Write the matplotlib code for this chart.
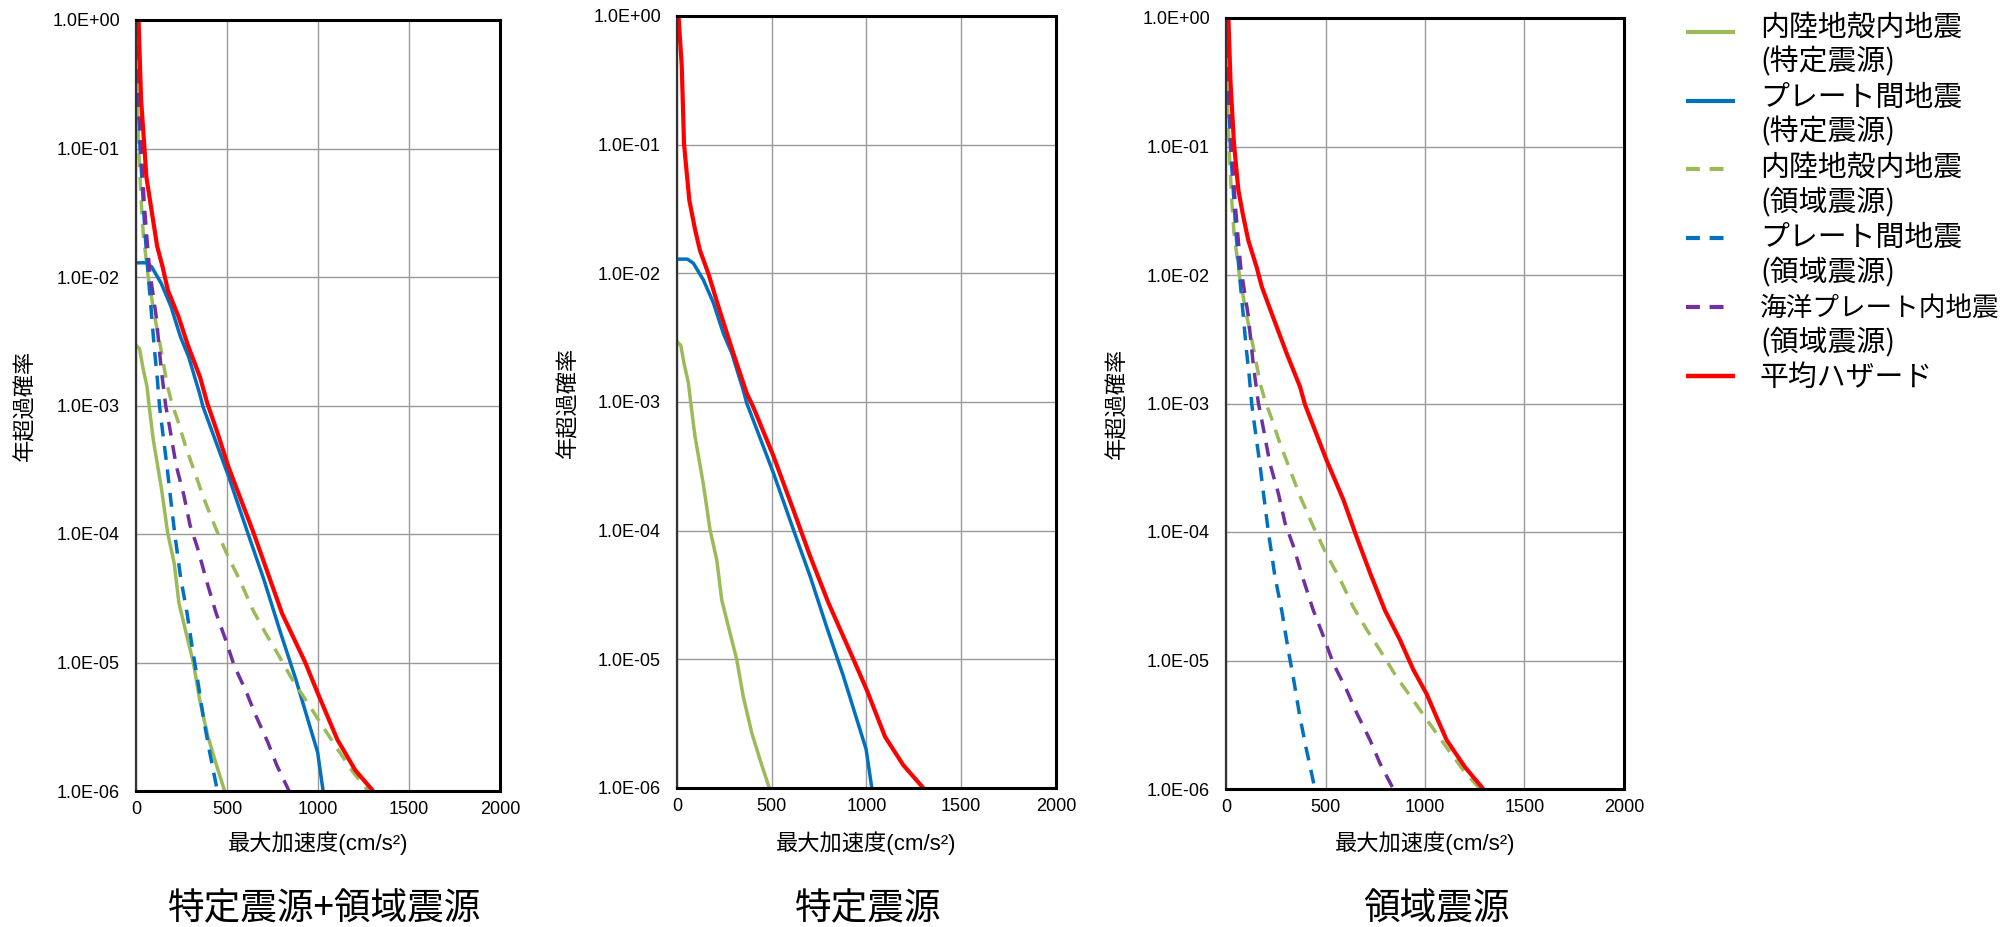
import matplotlib
matplotlib.use("Agg")
import matplotlib.pyplot as plt
from matplotlib.lines import Line2D
from matplotlib.ticker import FixedLocator, FixedFormatter, NullLocator

# ------------------------------------------------------------------ data
# x: peak ground acceleration (cm/s^2), y: annual exceedance probability
crust_spec_x = [0, 20, 37, 60, 72, 95, 139, 174, 210, 236, 271, 315, 350, 394, 438, 487]
crust_spec_y = [2.95e-3, 2.75e-3, 2.0e-3, 1.41e-3, 1.0e-3, 5.4e-4, 2.3e-4, 1.02e-4, 5.9e-5,
                2.9e-5, 1.8e-5, 1.0e-5, 5.1e-6, 2.7e-6, 1.66e-6, 1.0e-6]

plate_spec_x = [0, 55, 86, 139, 192, 245, 289, 350, 368, 509, 614, 703, 790, 878, 998, 1028]
plate_spec_y = [1.29e-2, 1.29e-2, 1.2e-2, 8.9e-3, 5.9e-3, 3.4e-3, 2.4e-3, 1.23e-3, 9.8e-4,
                2.8e-4, 1.02e-4, 4.4e-5, 1.78e-5, 7.4e-6, 2.0e-6, 1.0e-6]

crust_area_x = [0, 5, 15, 29, 40, 67, 104, 137, 171, 196, 230, 271, 372, 439, 503, 573, 640,
                707, 774, 858, 941, 1025, 1109, 1193, 1276]
crust_area_y = [0.76, 0.32, 0.10, 0.038, 0.0214, 0.010, 4.8e-3, 2.75e-3, 1.45e-3, 1.05e-3,
                7.6e-4, 4.9e-4, 1.9e-4, 1.1e-4, 6.8e-5, 4.3e-5, 2.6e-5, 1.74e-5, 1.2e-5,
                7.4e-6, 4.9e-6, 3.2e-6, 2.1e-6, 1.4e-6, 1.0e-6]

plate_area_x = [0, 10, 22, 35, 47, 62, 80, 101, 117, 129, 146, 171, 190, 213, 246, 280, 313,
                338, 372, 405, 447]
plate_area_y = [0.63, 0.32, 0.10, 0.050, 0.025, 0.0126, 6.3e-3, 2.75e-3, 1.62e-3, 1.0e-3,
                6.3e-4, 3.3e-4, 1.9e-4, 1.0e-4, 4.5e-5, 2.45e-5, 1.2e-5, 7.4e-6, 3.6e-6,
                2.0e-6, 1.0e-6]

slab_area_x = [0, 12, 29, 45, 60, 74, 95, 112, 138, 163, 180, 221, 263, 297, 338, 388, 439,
               489, 539, 606, 657, 724, 774, 841]
slab_area_y = [0.63, 0.32, 0.10, 0.038, 0.020, 0.0115, 7.1e-3, 4.8e-3, 1.95e-3, 1.0e-3,
               7.4e-4, 3.4e-4, 2.0e-4, 1.17e-4, 7.8e-5, 4.3e-5, 2.45e-5, 1.55e-5, 9.5e-6,
               5.9e-6, 3.9e-6, 2.4e-6, 1.58e-6, 1.0e-6]

mean_all_x = [14, 28, 47, 57, 87, 116, 146, 175, 234, 283, 352, 391, 450, 509, 646, 803, 930,
              999, 1107, 1205, 1303]
mean_all_y = [1.0, 0.24, 0.098, 0.060, 0.032, 0.0174, 0.012, 7.9e-3, 4.9e-3, 3.0e-3, 1.66e-3,
              1.05e-3, 6.0e-4, 3.3e-4, 1.02e-4, 2.4e-5, 1.0e-5, 5.75e-6, 2.5e-6, 1.45e-6, 1.0e-6]

mean_spec_x = [8, 25, 37, 48, 65, 95, 121, 165, 224, 297, 368, 403, 509, 614, 703, 799, 931,
               1002, 1098, 1195, 1300]
mean_spec_y = [1.0, 0.41, 0.102, 0.068, 0.037, 0.022, 0.0151, 0.010, 5.2e-3, 2.4e-3, 1.17e-3,
               9.1e-4, 3.8e-4, 1.45e-4, 6.3e-5, 2.75e-5, 1.0e-5, 5.75e-6, 2.5e-6, 1.5e-6, 1.0e-6]

mean_area_x = [12, 23, 40, 62, 84, 112, 154, 180, 230, 305, 372, 397, 506, 590, 657, 724, 799,
               874, 941, 1008, 1059, 1109, 1201, 1293]
mean_area_y = [1.0, 0.31, 0.106, 0.046, 0.030, 0.0186, 0.0115, 8.1e-3, 5.0e-3, 2.45e-3,
               1.35e-3, 9.8e-4, 3.6e-4, 1.78e-4, 9.1e-5, 4.8e-5, 2.45e-5, 1.45e-5, 8.5e-6,
               5.5e-6, 3.6e-6, 2.4e-6, 1.48e-6, 1.0e-6]

legend_labels = [
    ["内陸地殻内地震", "(特定震源)"],
    ["プレート間地震", "(特定震源)"],
    ["内陸地殻内地震", "(領域震源)"],
    ["プレート間地震", "(領域震源)"],
    ["海洋プレート内地震", "(領域震源)"],
    ["平均ハザード"],
]
panel_titles = ["特定震源+領域震源", "特定震源", "領域震源"]
xtick_values = [0, 500, 1000, 1500, 2000]
xtick_labels = ["0", "500", "1000", "1500", "2000"]
ytick_values = [1e-6, 1e-5, 1e-4, 1e-3, 1e-2, 1e-1, 1e0]
ytick_labels = ["1.0E-06", "1.0E-05", "1.0E-04", "1.0E-03", "1.0E-02", "1.0E-01", "1.0E+00"]
x_label = "最大加速度(cm/s²)"
y_label = "年超過確率"

# ------------------------------------------------------------------ styles
GREEN, BLUE, PURPLE, RED = "#9bbb59", "#0070c0", "#7030a0", "#ff0000"
LW, LW_RED = 2.5, 3.0
DASH = (10 / LW, 7 / LW)
CJK = ["Noto Sans CJK JP", "DejaVu Sans"]
LAT = ["Liberation Sans", "Noto Sans CJK JP", "DejaVu Sans"]

styles = {
    "crust_spec": dict(color=GREEN, lw=LW, ls="-"),
    "plate_spec": dict(color=BLUE, lw=LW, ls="-"),
    "crust_area": dict(color=GREEN, lw=LW, ls=(0, DASH)),
    "plate_area": dict(color=BLUE, lw=LW, ls=(0, DASH)),
    "slab_area": dict(color=PURPLE, lw=LW, ls=(0, DASH)),
    "mean": dict(color=RED, lw=LW_RED, ls="-"),
}
series = {
    "crust_spec": (crust_spec_x, crust_spec_y),
    "plate_spec": (plate_spec_x, plate_spec_y),
    "crust_area": (crust_area_x, crust_area_y),
    "plate_area": (plate_area_x, plate_area_y),
    "slab_area": (slab_area_x, slab_area_y),
    "mean_all": (mean_all_x, mean_all_y),
    "mean_spec": (mean_spec_x, mean_spec_y),
    "mean_area": (mean_area_x, mean_area_y),
}

W, H = 2008, 927
fig = plt.figure(figsize=(W / 100, H / 100), dpi=100)


def px_axes(l, t, r, b):
    return fig.add_axes([l / W, 1 - b / H, (r - l) / W, (b - t) / H])


panels = [
    dict(box=(136, 20, 500, 791), ylab_x=25, title_x=325,
         keys=["crust_spec", "plate_spec", "crust_area", "plate_area", "slab_area", "mean_all"]),
    dict(box=(677, 16, 1056, 788), ylab_x=568, title_x=868,
         keys=["crust_spec", "plate_spec", "mean_spec"]),
    dict(box=(1226, 18, 1624, 789), ylab_x=1117, title_x=1436,
         keys=["crust_area", "plate_area", "slab_area", "mean_area"]),
]

for p, title in zip(panels, panel_titles):
    l, t, r, b = p["box"]
    ax = px_axes(l, t, r, b)
    for k in p["keys"]:
        x, y = series[k]
        st = styles["mean"] if k.startswith("mean") else styles[k]
        ax.plot(x, y, color=st["color"], lw=st["lw"], ls=st["ls"],
                solid_capstyle="butt", dash_capstyle="butt", zorder=3)
    ax.set_yscale("log")
    ax.set_xlim(0, 2000)
    ax.set_ylim(1e-6, 1)
    ax.xaxis.set_major_locator(FixedLocator(xtick_values))
    ax.xaxis.set_major_formatter(FixedFormatter(xtick_labels))
    ax.yaxis.set_major_locator(FixedLocator(ytick_values))
    ax.yaxis.set_major_formatter(FixedFormatter(ytick_labels))
    ax.yaxis.set_minor_locator(NullLocator())
    ax.xaxis.set_minor_locator(NullLocator())
    ax.grid(True, which="major", color="#9a9a9a", lw=1.0, zorder=1)
    ax.set_axisbelow(True)
    ax.tick_params(axis="y", length=0, pad=11.5, labelsize=13)
    ax.tick_params(axis="x", length=0, pad=7, labelsize=13)
    for lab in ax.get_xticklabels() + ax.get_yticklabels():
        lab.set_family(LAT)
    for side in ["top", "right", "bottom"]:
        ax.spines[side].set_color("black")
        ax.spines[side].set_linewidth(2.2)
    ax.spines["left"].set_color("#333333")
    ax.spines["left"].set_linewidth(1.6)
    for s in ax.spines.values():
        s.set_zorder(4)

    ax.set_xlabel(x_label, fontsize=16, family=LAT)
    ax.xaxis.set_label_coords(0.5, -(843 - b) / (b - t))
    ax.xaxis.label.set_va("center")
    ax.set_ylabel(y_label, fontsize=16, family=CJK)
    ax.yaxis.set_label_coords((p["ylab_x"] - l) / (r - l), 0.5)
    ax.yaxis.label.set_va("center")

    fig.text(p["title_x"] / W, 1 - 909 / H, title, fontsize=26.4, family=CJK,
             ha="center", va="center")

# ------------------------------------------------------------------ legend (manual)
leg_keys = ["crust_spec", "plate_spec", "crust_area", "plate_area", "slab_area", "mean"]
for i, (k, lines) in enumerate(zip(leg_keys, legend_labels)):
    st = styles[k]
    y_line = 32 + 68.7 * i
    dashed = st["ls"] != "-"
    x1 = 1724 if dashed else 1735
    fig.add_artist(Line2D([1686 / W, x1 / W], [1 - y_line / H, 1 - y_line / H],
                          transform=fig.transFigure, color=st["color"],
                          lw=3.0 if k != "mean" else 3.2,
                          ls=(0, (10 / 3.0, 7 / 3.0)) if dashed else "-",
                          solid_capstyle="butt", dash_capstyle="butt"))
    y_text = 28 + 70 * i
    for j, line in enumerate(lines):
        fs = 20.8 if len(line) <= 7 else 19.2
        fig.text(1760 / W, 1 - (y_text + 34.5 * j) / H, line, fontsize=fs, family=CJK,
                 ha="left", va="center")

fig.savefig("out.png", dpi=100)
